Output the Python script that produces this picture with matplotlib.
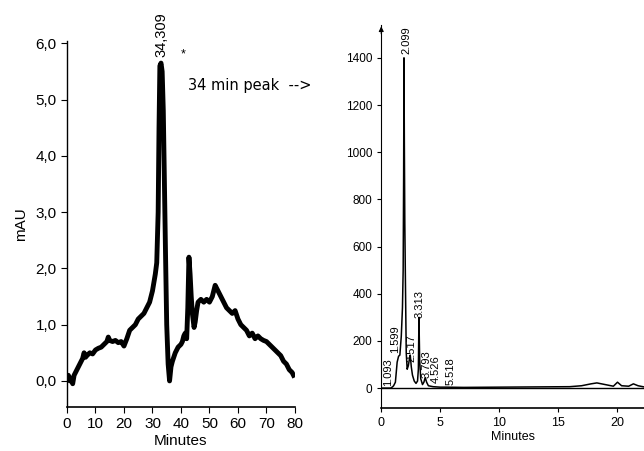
import numpy as np
import matplotlib.pyplot as plt

# left chromatogram (minutes, mAU)
t_left = [0, 0.5, 1, 1.5, 2, 2.5, 3, 3.5, 4, 4.5, 5, 5.5, 6, 6.5, 7, 8, 9, 10, 11, 12,
          13, 14, 14.5, 15, 16, 17, 18, 19, 20, 21, 22, 23, 24, 25, 26, 27, 28, 29, 30,
          30.5, 31, 31.5, 32, 32.3, 32.6, 33.0, 33.4, 33.8, 34.2, 34.6, 35.0, 35.5, 36, 36.5,
          37, 38, 39, 40, 40.5, 41, 41.5, 42, 42.4, 42.8, 43.2, 43.6, 44, 44.6, 45, 45.5,
          46, 47, 48, 49, 50, 51, 52, 53, 54, 55, 56, 57, 58, 59, 60, 61, 62, 63, 64, 65,
          66, 67, 68, 69, 70, 71, 72, 73, 74, 75, 76, 77, 78, 79, 79.5]
mau = [0.05, 0.1, 0.0, 0.05, -0.05, 0.1, 0.15, 0.2, 0.25, 0.3, 0.35, 0.4, 0.5, 0.42, 0.45, 0.5, 0.48, 0.55, 0.58, 0.6,
       0.65, 0.7, 0.78, 0.72, 0.7, 0.72, 0.68, 0.7, 0.62, 0.75, 0.9, 0.95, 1.0, 1.1, 1.15, 1.2, 1.3, 1.4, 1.6,
       1.75, 1.9, 2.1, 3.0, 4.5, 5.6, 5.65, 5.5, 4.8, 3.5, 2.2, 1.0, 0.3, 0.0, 0.25,
       0.35, 0.5, 0.6, 0.65, 0.7, 0.8, 0.85, 0.75, 1.3, 2.2, 1.9, 1.5, 1.2, 0.95, 1.05, 1.25,
       1.4, 1.45, 1.4, 1.45, 1.4, 1.5, 1.7, 1.6, 1.5, 1.4, 1.3, 1.25, 1.2, 1.25, 1.1, 1.0, 0.95, 0.9, 0.8, 0.85,
       0.75, 0.8, 0.75, 0.72, 0.7, 0.65, 0.6, 0.55, 0.5, 0.45, 0.35, 0.3, 0.2, 0.15, 0.1]

# right chromatogram (minutes, signal)
t_right = [0, 0.8, 0.95, 1.05, 1.2, 1.35, 1.47, 1.58, 1.7, 1.8, 1.86, 1.9, 1.93, 1.96, 2.0,
           2.05, 2.12, 2.2, 2.3, 2.38, 2.46, 2.55, 2.65, 2.8, 2.95, 3.08, 3.15, 3.2, 3.26,
           3.35, 3.5, 3.62, 3.73, 3.85, 4.0, 4.4, 5.0, 5.5, 7, 10, 13, 16, 17, 17.8, 18.3,
           19, 19.7, 20.05, 20.4, 21, 21.4, 21.8, 22.3]
signal = [0, 0, 5, 10, 25, 110, 135, 140, 220, 340, 500, 900, 1400, 1050, 700,
          460, 150, 80, 95, 120, 140, 90, 55, 30, 20, 30, 80, 300, 120,
          40, 15, 25, 45, 25, 10, 6, 4, 4, 3, 4, 5, 6, 10, 18, 22,
          15, 8, 25, 10, 8, 18, 10, 5]

peak_names = ["1.093", "1.599", "2.099", "2.517", "3.313", "3.793", "4.526", "5.518"]
label_x = [0.62, 1.19, 2.1, 2.6, 3.25, 3.87, 4.66, 5.85]
label_y = [10, 150, 1415, 112, 296, 43, 22, 13]

plt.rcParams['font.family'] = ['Liberation Sans', 'DejaVu Sans']

fig = plt.figure(figsize=(6.44, 4.51), dpi=100)

# left panel
ax1 = fig.add_axes([0.104, 0.098, 0.354, 0.812])
ax1.plot(t_left, mau, color='black', linewidth=3.5)
ax1.set_xlim(0, 80)
ax1.set_ylim(-0.46, 6.05)
ax1.spines['top'].set_visible(False)
ax1.spines['right'].set_visible(False)
ax1.spines['left'].set_linewidth(1.0)
ax1.spines['bottom'].set_linewidth(1.2)
ax1.set_xticks(range(0, 81, 10))
ax1.set_yticks(np.arange(0, 6.1, 1.0))
ax1.set_yticklabels(["0,0", "1,0", "2,0", "3,0", "4,0", "5,0", "6,0"])
ax1.tick_params(labelsize=11, length=4, direction='out')
ax1.set_xlabel("Minutes", fontsize=11, labelpad=2)
ax1.set_ylabel("mAU", fontsize=11, labelpad=5)
ax1.text(33.0, 5.75, "34,309", rotation=90, ha='center', va='bottom', fontsize=10.5, clip_on=False)
ax1.text(40.6, 5.8, "*", ha='center', va='center', fontsize=9)
ax1.text(42.5, 5.26, "34 min peak  -->", fontsize=10.5, family='DejaVu Sans', va='center', clip_on=False)

# right panel
ax2 = fig.add_axes([0.592, 0.095, 0.408, 0.85])
ax2.plot(t_right, signal, color='black', linewidth=1.1)
ax2.axhline(0, color='black', linewidth=1.0)
ax2.set_xlim(0, 22.3)
ax2.set_ylim(-85, 1540)
ax2.spines['top'].set_visible(False)
ax2.spines['right'].set_visible(False)
ax2.spines['bottom'].set_linewidth(1.2)
ax2.set_xticks(range(0, 21, 5))
ax2.set_yticks(range(0, 1401, 200))
ax2.tick_params(axis='y', labelsize=8.5, length=3, direction='out')
ax2.tick_params(axis='x', labelsize=9, length=3, direction='out')
ax2.set_xlabel("Minutes", fontsize=9, labelpad=1)
ax2.annotate("", xy=(0, 1545), xytext=(0, 1490),
             arrowprops=dict(arrowstyle='-|>', color='black', lw=0.8, mutation_scale=7),
             annotation_clip=False)
for name, px, py in zip(peak_names, label_x, label_y):
    ax2.text(px, py, name, rotation=90, ha='center', va='bottom', fontsize=8, clip_on=False)

plt.savefig("out.png", dpi=100)
